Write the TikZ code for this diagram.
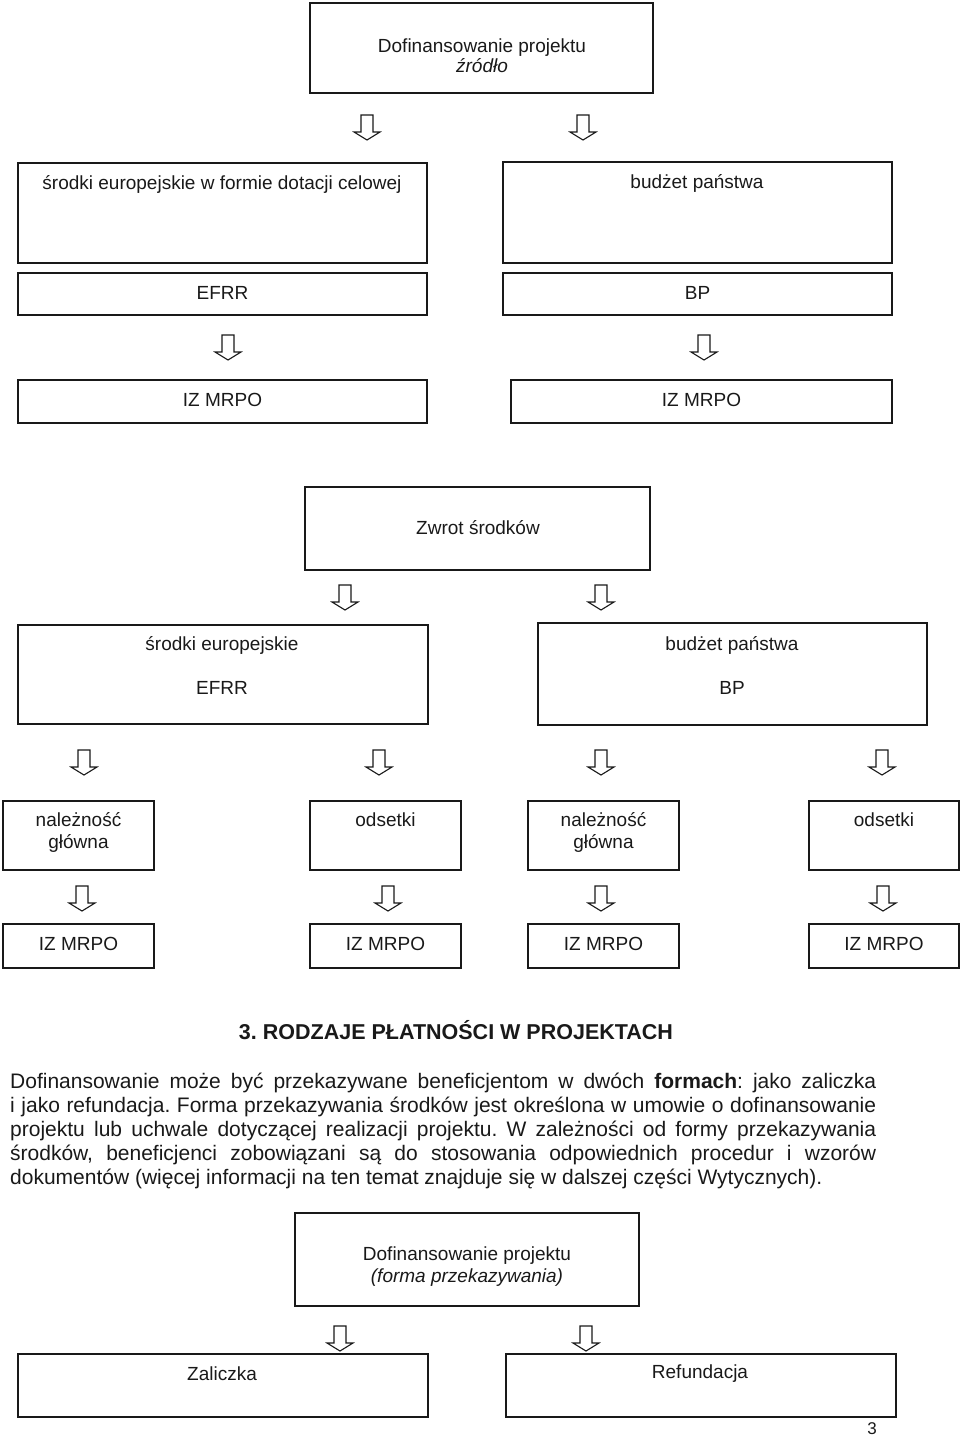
\documentclass[tikz,border=0pt]{standalone}
\usepackage{fontspec}
\setmainfont{Liberation Sans}
\frenchspacing
\begin{document}
\begin{tikzpicture}[x=1pt,y=-1pt,
  box/.style={draw=black!90, line width=1.3pt, inner sep=0pt, fill=none},
  txt/.style={inner sep=0pt, anchor=base, font=\fontsize{19}{22}\selectfont, text=black!90},
  body/.style={inner sep=0pt, anchor=base west, font=\fontsize{21}{24}\selectfont, text=black!90},
  arrowline/.style={draw=black!90, line width=1.1pt, line join=miter, fill=white},
  blockarrow/.pic={\draw[arrowline] (-6,0) -- (6,0) -- (6,17) -- (13,17) -- (0,25) -- (-13,17) -- (-6,17) -- cycle;}
]
\useasboundingbox (0,0) rectangle (960,1436);

% --- top block
\node[box, minimum width=343pt, minimum height=90pt] (top) at (481.5,48) {};
\node[txt] (topA) at (482,52) {Dofinansowanie projektu};
\node[txt] (topB) at (482,72) {\itshape źródło};
\pic (a1) at (367,115) {blockarrow};
\pic (a2) at (583,115) {blockarrow};

\node[box, minimum width=409pt, minimum height=100pt] (src1) at (222.5,213) {};
\node[txt] (src1t) at (222,189) {środki europejskie w formie dotacji celowej};
\node[box, minimum width=389pt, minimum height=101pt] (bud1) at (697.5,212.5) {};
\node[txt] (bud1t) at (697,188) {budżet państwa};

\node[box, minimum width=409pt, minimum height=42pt] (efrr1) at (222.5,294) {};
\node[txt] (efrr1t) at (222.5,299.5) {EFRR};
\node[box, minimum width=389pt, minimum height=42pt] (bp1) at (697.5,294) {};
\node[txt] (bp1t) at (697.5,299.5) {BP};

\pic (a3) at (228,335) {blockarrow};
\pic (a4) at (704,335) {blockarrow};

\node[box, minimum width=409pt, minimum height=43pt] (iz1) at (222.5,401.5) {};
\node[txt] (iz1t) at (222.5,406.5) {IZ MRPO};
\node[box, minimum width=381pt, minimum height=43pt] (iz2) at (701.5,401.5) {};
\node[txt] (iz2t) at (701.5,406.5) {IZ MRPO};

% --- Zwrot
\node[box, minimum width=345pt, minimum height=83pt] (zwrot) at (477.5,528.5) {};
\node[txt] (zwrott) at (478,534) {Zwrot środków};
\pic (a5) at (345,585) {blockarrow};
\pic (a6) at (601,585) {blockarrow};

\node[box, minimum width=410pt, minimum height=99pt] (src2) at (223,674.5) {};
\node[txt] (src2a) at (222,650) {środki europejskie};
\node[txt] (src2b) at (222,694) {EFRR};
\node[box, minimum width=389pt, minimum height=102pt] (bud2) at (732.5,674) {};
\node[txt] (bud2a) at (732,650) {budżet państwa};
\node[txt] (bud2b) at (732,694) {BP};

\pic (a7) at (84,750) {blockarrow};
\pic (a8) at (379,750) {blockarrow};
\pic (a9) at (601,750) {blockarrow};
\pic (a10) at (882,750) {blockarrow};

\node[box, minimum width=151pt, minimum height=69pt] (r1) at (78.5,835.5) {};
\node[txt] (r1a) at (78.5,826) {należność};
\node[txt] (r1b) at (78.5,848) {główna};
\node[box, minimum width=151pt, minimum height=69pt] (r2) at (385.5,835.5) {};
\node[txt] (r2a) at (385.5,826) {odsetki};
\node[box, minimum width=151pt, minimum height=69pt] (r3) at (603.5,835.5) {};
\node[txt] (r3a) at (603.5,826) {należność};
\node[txt] (r3b) at (603.5,848) {główna};
\node[box, minimum width=150pt, minimum height=69pt] (r4) at (884,835.5) {};
\node[txt] (r4a) at (884,826) {odsetki};

\pic (a11) at (82,886) {blockarrow};
\pic (a12) at (388,886) {blockarrow};
\pic (a13) at (601,886) {blockarrow};
\pic (a14) at (883,886) {blockarrow};

\node[box, minimum width=151pt, minimum height=44pt] (z1) at (78.5,946) {};
\node[txt] (z1t) at (78.5,950) {IZ MRPO};
\node[box, minimum width=151pt, minimum height=44pt] (z2) at (385.5,946) {};
\node[txt] (z2t) at (385.5,950) {IZ MRPO};
\node[box, minimum width=151pt, minimum height=44pt] (z3) at (603.5,946) {};
\node[txt] (z3t) at (603.5,950) {IZ MRPO};
\node[box, minimum width=150pt, minimum height=44pt] (z4) at (884,946) {};
\node[txt] (z4t) at (884,950) {IZ MRPO};

% --- heading and paragraph
\node[txt, font=\fontsize{21.5}{24}\selectfont\bfseries] (head) at (456,1039) {3. RODZAJE PŁATNOŚCI W PROJEKTACH};
\node[body] (p1) at (10,1088) {\makebox[866pt][s]{Dofinansowanie może być przekazywane beneficjentom w dwóch \textbf{formach}: jako zaliczka}};
\node[body] (p2) at (10,1112) {\makebox[866pt][s]{i jako refundacja. Forma przekazywania środków jest określona w umowie o dofinansowanie}};
\node[body] (p3) at (10,1136) {\makebox[866pt][s]{projektu lub uchwale dotyczącej realizacji projektu. W zależności od formy przekazywania}};
\node[body] (p4) at (10,1160) {\makebox[866pt][s]{środków, beneficjenci zobowiązani są do stosowania odpowiednich procedur i wzorów}};
\node[body] (p5) at (10,1184) {dokumentów (więcej informacji na ten temat znajduje się w dalszej części Wytycznych).};

% --- bottom block
\node[box, minimum width=344pt, minimum height=93pt] (dof) at (467,1259.5) {};
\node[txt] (dofa) at (467,1260) {Dofinansowanie projektu};
\node[txt] (dofb) at (467,1282) {\itshape (forma przekazywania)};
\pic (a15) at (340,1326) {blockarrow};
\pic (a16) at (586,1326) {blockarrow};

\node[box, minimum width=410pt, minimum height=63pt] (zal) at (223,1385.5) {};
\node[txt] (zalt) at (222,1380) {Zaliczka};
\node[box, minimum width=390pt, minimum height=63pt] (ref) at (701,1385.5) {};
\node[txt] (reft) at (700,1378) {Refundacja};

\node[txt, font=\fontsize{17}{18}\selectfont] (pg) at (872,1434) {3};
\end{tikzpicture}
\end{document}
